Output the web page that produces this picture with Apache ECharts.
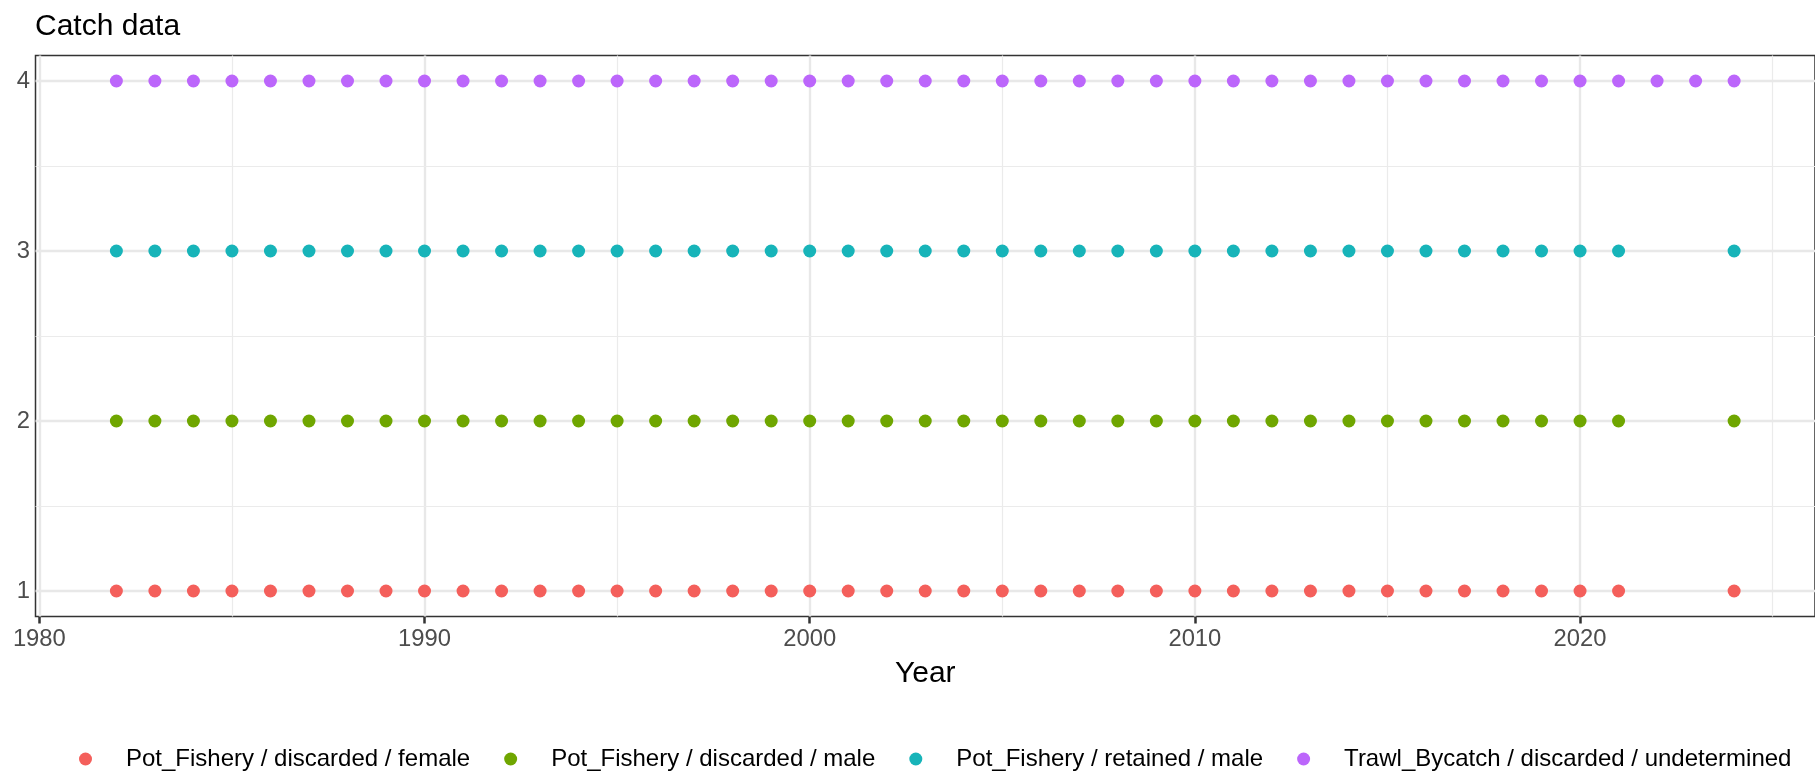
<!DOCTYPE html>
<html>
<head>
<meta charset="utf-8">
<script src="https://cdn.jsdelivr.net/npm/echarts@6/dist/echarts.min.js"></script>
<style>
html,body{margin:0;padding:0;background:#fff;}
#chart{width:1815px;height:776px;}
</style>
</head>
<body>
<div id="chart"></div>
<script>
// ---- data ----
const titleText = 'Catch data';
const xAxisTitle = 'Year';
const seriesNames = [
  'Pot_Fishery / discarded / female',
  'Pot_Fishery / discarded / male',
  'Pot_Fishery / retained / male',
  'Trawl_Bycatch / discarded / undetermined'
];
const seriesLevels = [1, 2, 3, 4];
const yearsFemaleDiscard = [1982,1983,1984,1985,1986,1987,1988,1989,1990,1991,1992,1993,1994,1995,1996,1997,1998,1999,2000,2001,2002,2003,2004,2005,2006,2007,2008,2009,2010,2011,2012,2013,2014,2015,2016,2017,2018,2019,2020,2021,2024];
const yearsMaleDiscard = [1982,1983,1984,1985,1986,1987,1988,1989,1990,1991,1992,1993,1994,1995,1996,1997,1998,1999,2000,2001,2002,2003,2004,2005,2006,2007,2008,2009,2010,2011,2012,2013,2014,2015,2016,2017,2018,2019,2020,2021,2024];
const yearsMaleRetained = [1982,1983,1984,1985,1986,1987,1988,1989,1990,1991,1992,1993,1994,1995,1996,1997,1998,1999,2000,2001,2002,2003,2004,2005,2006,2007,2008,2009,2010,2011,2012,2013,2014,2015,2016,2017,2018,2019,2020,2021,2024];
const yearsTrawl = [1982,1983,1984,1985,1986,1987,1988,1989,1990,1991,1992,1993,1994,1995,1996,1997,1998,1999,2000,2001,2002,2003,2004,2005,2006,2007,2008,2009,2010,2011,2012,2013,2014,2015,2016,2017,2018,2019,2020,2021,2022,2023,2024];
const xTicks = [1980, 1990, 2000, 2010, 2020];
const xMinorTicks = [1985, 1995, 2005, 2015, 2025];
const yTicks = [1, 2, 3, 4];
const yMinorTicks = [1.5, 2.5, 3.5];
const xRange = [1979.9, 2026.1];
const yRange = [0.85, 4.15];

// ---- styling ----
const colors = ['#F45F5B', '#6FA600', '#17B4B9', '#BC66FB'];
const FONT = '"Liberation Sans", Arial, Helvetica, sans-serif';
const yearLists = [yearsFemaleDiscard, yearsMaleDiscard, yearsMaleRetained, yearsTrawl];

const gridLines = [];
xTicks.forEach(v => gridLines.push({xAxis: v, lineStyle: {color: '#e8e8e8', width: 2.4, type: 'solid'}}));
xMinorTicks.forEach(v => gridLines.push({xAxis: v, lineStyle: {color: '#ebebeb', width: 1.2, type: 'solid'}}));
yTicks.forEach(v => gridLines.push({yAxis: v, lineStyle: {color: '#e8e8e8', width: 2.4, type: 'solid'}}));
yMinorTicks.forEach(v => gridLines.push({yAxis: v, lineStyle: {color: '#ebebeb', width: 1.2, type: 'solid'}}));

const series = [{
  type: 'scatter',
  data: [],
  silent: true,
  z: 1,
  markLine: {
    silent: true,
    symbol: ['none', 'none'],
    z: 1,
    animation: false,
    label: {show: false},
    emphasis: {disabled: true},
    data: gridLines
  }
}];
seriesNames.forEach((name, i) => {
  series.push({
    name: name,
    type: 'scatter',
    symbol: 'circle',
    symbolSize: 13,
    z: 3,
    itemStyle: {color: colors[i], opacity: 1},
    data: yearLists[i].map(y => [y, seriesLevels[i]])
  });
});

const chart = echarts.init(document.getElementById('chart'), null, {renderer: 'canvas'});
chart.setOption({
  animation: false,
  backgroundColor: '#ffffff',
  title: {
    text: titleText,
    left: 35,
    top: 12,
    padding: 0,
    textStyle: {fontFamily: FONT, fontSize: 30, fontWeight: 'normal', color: '#000000'}
  },
  legend: {
    data: seriesNames,
    left: 79,
    top: 747,
    padding: 0,
    itemWidth: 13,
    itemHeight: 13,
    itemGap: 34,
    icon: 'circle',
    textStyle: {fontFamily: FONT, fontSize: 24, color: '#000000', padding: [0, 0, 0, 29]}
  },
  grid: {
    left: 35.5,
    right: -3.5,
    top: 55.5,
    bottom: 159.5,
    show: true,
    borderColor: '#333333',
    borderWidth: 1.5,
    backgroundColor: 'transparent',
    containLabel: false
  },
  xAxis: {
    type: 'value',
    min: xRange[0],
    max: xRange[1],
    name: xAxisTitle,
    nameLocation: 'middle',
    nameGap: 42,
    nameTextStyle: {fontFamily: FONT, fontSize: 30, color: '#000000'},
    axisLine: {show: false},
    axisTick: {show: true, length: 7, lineStyle: {color: '#333333', width: 2.5}, customValues: xTicks},
    axisLabel: {show: true, margin: 10.5, fontFamily: FONT, fontSize: 23.8, color: '#4d4d4d', customValues: xTicks,
      formatter: v => String(v)},
    splitLine: {show: false},
    minorSplitLine: {show: false}
  },
  yAxis: {
    type: 'value',
    min: yRange[0],
    max: yRange[1],
    axisLine: {show: false},
    axisTick: {show: false},
    axisLabel: {show: true, margin: 5.5, fontFamily: FONT, fontSize: 23.8, color: '#4d4d4d', customValues: yTicks,
      formatter: v => String(v)},
    splitLine: {show: false},
    minorSplitLine: {show: false}
  },
  series: series
});
</script>
</body>
</html>
